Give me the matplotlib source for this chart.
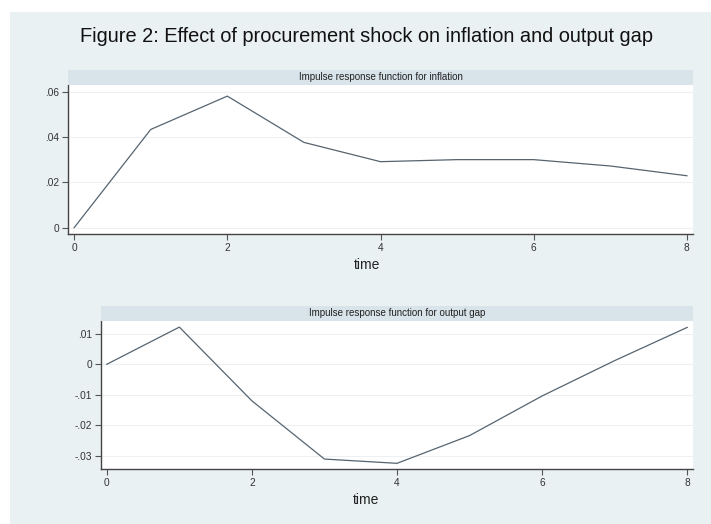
import matplotlib
matplotlib.use("Agg")
import matplotlib.pyplot as plt
from matplotlib.patches import Rectangle

# ---- data ----
time = [0, 1, 2, 3, 4, 5, 6, 7, 8]
inflation = [0.0, 0.0433, 0.0580, 0.0376, 0.0291, 0.0300, 0.0300, 0.0272, 0.0229]
output_gap = [0.0, 0.0122, -0.0120, -0.0311, -0.0325, -0.0234, -0.0104, 0.0012, 0.0121]

x_ticks = [0, 2, 4, 6, 8]
infl_yticks = [0, 0.02, 0.04, 0.06]
infl_ylabels = ["0", ".02", ".04", ".06"]
gap_yticks = [-0.03, -0.02, -0.01, 0, 0.01]
gap_ylabels = ["-.03", "-.02", "-.01", "0", ".01"]

title = "Figure 2: Effect of procurement shock on inflation and output gap"
strip1 = "Impulse response function for inflation"
strip2 = "Impulse response function for output gap"
xlabel = "time"

plt.rcParams['font.family'] = ['Liberation Sans', 'DejaVu Sans']

W, H = 711, 524
fig = plt.figure(figsize=(W / 100, H / 100), dpi=100)
fig.patch.set_facecolor("white")

BG = "#eaf1f3"
STRIP = "#d8e3ea"
LINE = "#56646f"
TXT = "#333333"

# background region (white margin top and left)
fig.patches.append(Rectangle((10 / W, 0), 1 - 10 / W, 1 - 12 / H,
                             transform=fig.transFigure, facecolor=BG,
                             edgecolor="none", zorder=-10))

fig.text(366 / W, 1 - 36 / H, title, ha="center", va="center",
         fontsize=14.4, color="#111111")


def px_axes(left, top, right, bottom):
    return [left / W, 1 - bottom / H, (right - left) / W, (bottom - top) / H]


def panel(rect, strip_rect, y, yticks, ylabels, ylim, strip_text, xlab_pos):
    ax = fig.add_axes(rect)
    ax.set_facecolor("white")
    ax.plot(time, y, color=LINE, lw=0.9)
    ax.set_xlim(-0.08, 8.08)
    ax.set_ylim(*ylim)
    ax.set_xticks(x_ticks)
    ax.set_xticklabels([str(t) for t in x_ticks])
    ax.set_yticks(yticks)
    ax.set_yticklabels(ylabels)
    for yt in yticks:
        ax.axhline(yt, color="#eef0f2", lw=0.8, zorder=0)
    for s in ["top", "right"]:
        ax.spines[s].set_visible(False)
    for s in ["left", "bottom"]:
        ax.spines[s].set_color("#444444")
        ax.spines[s].set_linewidth(1.0)
    ax.tick_params(axis="both", direction="out", length=4, width=0.8,
                   color="#555555", labelsize=7.3, labelcolor=TXT, pad=2.5)
    # strip
    sax = fig.add_axes(strip_rect)
    sax.set_facecolor(STRIP)
    sax.set_xticks([])
    sax.set_yticks([])
    for s in sax.spines.values():
        s.set_visible(False)
    sax.text(0.5, 0.5, strip_text, ha="center", va="center",
             fontsize=7, color="#222222", transform=sax.transAxes,
             family=['Liberation Sans Narrow', 'Liberation Sans', 'DejaVu Sans'])
    fig.text(xlab_pos[0] / W, 1 - xlab_pos[1] / H, xlabel, ha="center",
             va="center", fontsize=10, color="#222222")
    return ax


panel(px_axes(68, 85, 693, 234), px_axes(68, 70, 693, 85),
      inflation, infl_yticks, infl_ylabels, (-0.00278, 0.0629),
      strip1, (367, 265))
panel(px_axes(101, 321, 693, 469.3), px_axes(101, 306, 693, 321),
      output_gap, gap_yticks, gap_ylabels, (-0.03446, 0.0142),
      strip2, (366, 500))

fig.savefig("out.png", dpi=100, facecolor=fig.get_facecolor())
